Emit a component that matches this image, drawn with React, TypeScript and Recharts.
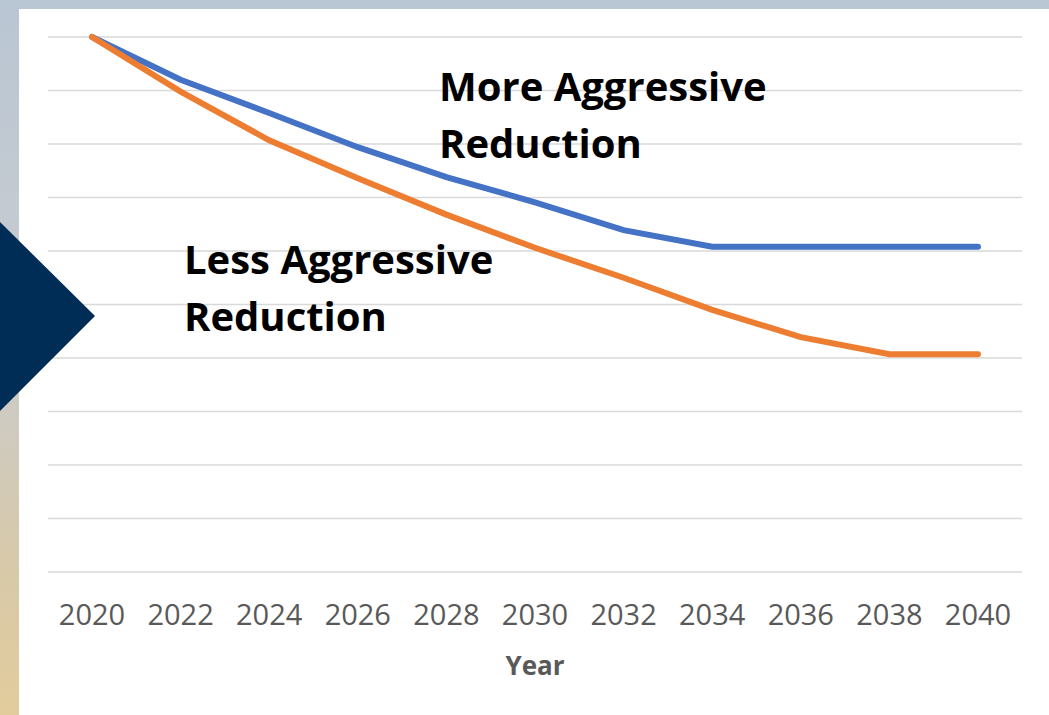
import { CartesianGrid, Label, Line, LineChart, XAxis, YAxis } from 'recharts';

const years = ['2020', '2022', '2024', '2026', '2028', '2030', '2032', '2034', '2036', '2038', '2040'];
const moreAggressive = [10, 9.2, 8.58, 7.94, 7.38, 6.91, 6.39, 6.08, 6.08, 6.08, 6.08];
const lessAggressive = [10, 8.98, 8.07, 7.36, 6.68, 6.06, 5.5, 4.9, 4.39, 4.07, 4.07];
const yTicks = [0, 1, 2, 3, 4, 5, 6, 7, 8, 9, 10];

const data = years.map((year, i) => ({
  year,
  more: moreAggressive[i],
  less: lessAggressive[i],
}));

const noteStyle: React.CSSProperties = {
  position: 'absolute',
  fontFamily: '"Open Sans", sans-serif',
  fontWeight: 700,
  fontSize: 40,
  lineHeight: '57px',
  color: '#000',
  whiteSpace: 'nowrap',
};

export default function App() {
  return (
    <div
      style={{
        position: 'absolute',
        left: 0,
        top: 0,
        width: 1049,
        height: 715,
        overflow: 'hidden',
        background: 'linear-gradient(180deg, #b9c6d3 0%, #c9ccd0 45%, #d8c9a8 80%, #e2cc9c 100%)',
      }}
    >
      <div style={{ position: 'absolute', left: 19, top: 9, width: 1030, height: 706, background: '#fff' }}>
        <LineChart width={1030} height={706} data={data} margin={{ top: 28, right: 27, left: 29, bottom: 0 }}>
          <CartesianGrid vertical={false} stroke="#d9d9d9" strokeWidth={1.5} />
          <XAxis
            dataKey="year"
            axisLine={false}
            tickLine={false}
            tickSize={0}
            tickMargin={32}
            height={143}
            interval={0}
            padding={{ left: 44, right: 44 }}
            tick={{ fontSize: 29, fill: '#595959', fontFamily: '"Open Sans", sans-serif' }}
          >
            <Label
              value="Year"
              position="insideBottom"
              offset={40}
              style={{ fontSize: 26, fontWeight: 700, fill: '#595959', fontFamily: '"Open Sans", sans-serif' }}
            />
          </XAxis>
          <YAxis hide domain={[0, 10]} ticks={yTicks} />
          <Line dataKey="more" stroke="#4472c4" strokeWidth={6} dot={false} strokeLinecap="round" isAnimationActive={false} />
          <Line dataKey="less" stroke="#ed7d31" strokeWidth={6} dot={false} strokeLinecap="round" isAnimationActive={false} />
        </LineChart>
      </div>
      <div style={{ ...noteStyle, left: 439, top: 57 }}>
        More Aggressive
        <br />
        Reduction
      </div>
      <div style={{ ...noteStyle, left: 184, top: 230 }}>
        Less Aggressive
        <br />
        Reduction
      </div>
      <svg width={100} height={715} style={{ position: 'absolute', left: 0, top: 0 }}>
        <polygon points="0,222 95,316 0,411" fill="#002d56" />
      </svg>
    </div>
  );
}
